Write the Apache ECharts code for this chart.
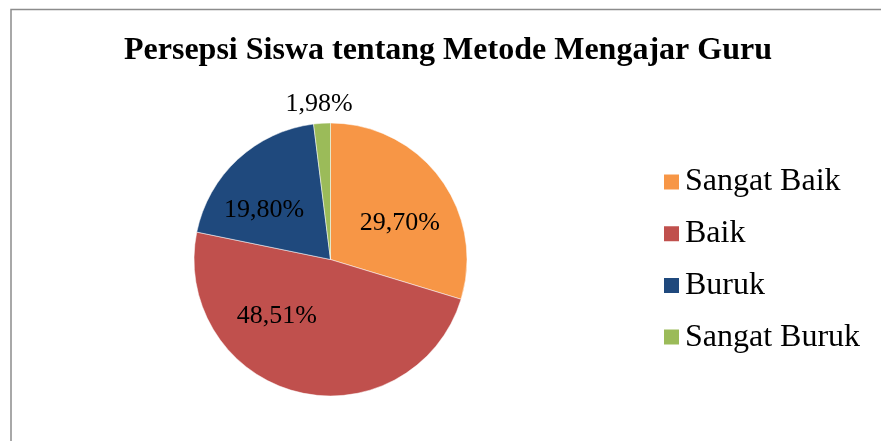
<!DOCTYPE html>
<html>
<head>
<meta charset="utf-8">
<script src="https://cdn.jsdelivr.net/npm/echarts@6/dist/echarts.min.js"></script>
<style>
html,body{margin:0;padding:0;background:#fff;}
#chart{width:881px;height:441px;}
</style>
</head>
<body>
<div id="chart"></div>
<script>
var categories = ['Sangat Baik', 'Baik', 'Buruk', 'Sangat Buruk'];
var values = [29.70, 48.51, 19.80, 1.98];
var titleText = 'Persepsi Siswa tentang Metode Mengajar Guru';

var colors = ['#F79646', '#C0504D', '#1F497D', '#9BBB59'];
var labelOffsets = [[12, 6], [-36, -12], [-18, 3], [-7, -84]];

var data = categories.map(function (c, i) {
  return {
    name: c,
    value: values[i],
    itemStyle: { color: colors[i] },
    label: { offset: labelOffsets[i] }
  };
});

var chart = echarts.init(document.getElementById('chart'), null, { renderer: 'canvas' });
chart.setOption({
  animation: false,
  backgroundColor: '#fff',
  title: {
    text: titleText,
    left: 124,
    top: 35,
    padding: 0,
    textStyle: {
      fontFamily: 'Liberation Serif',
      fontWeight: 'bold',
      fontSize: 32,
      color: '#000'
    }
  },
  legend: {
    orient: 'vertical',
    left: 662,
    top: 166,
    padding: 0,
    icon: 'rect',
    itemWidth: 17,
    itemHeight: 17,
    itemGap: 19.7,
    data: categories,
    textStyle: {
      fontFamily: 'Liberation Serif',
      fontSize: 32,
      lineHeight: 32,
      color: '#000'
    }
  },
  graphic: [{
    type: 'rect',
    shape: { x: 11, y: 9.5, width: 1000, height: 1000 },
    style: { fill: 'none', stroke: '#8c8c8c', lineWidth: 1.5 },
    silent: true
  }],
  series: [{
    type: 'pie',
    center: [330.5, 259.5],
    radius: [0, 136.5],
    startAngle: 90,
    clockwise: true,
    avoidLabelOverlap: false,
    itemStyle: { borderColor: '#fff', borderWidth: 0.5 },
    label: {
      show: true,
      position: 'inside',
      fontFamily: 'Liberation Serif',
      fontSize: 26,
      color: '#000',
      formatter: function (p) {
        return p.value.toFixed(2).replace('.', ',') + '%';
      }
    },
    labelLine: { show: false },
    emphasis: { disabled: true },
    data: data
  }]
});
</script>
</body>
</html>
